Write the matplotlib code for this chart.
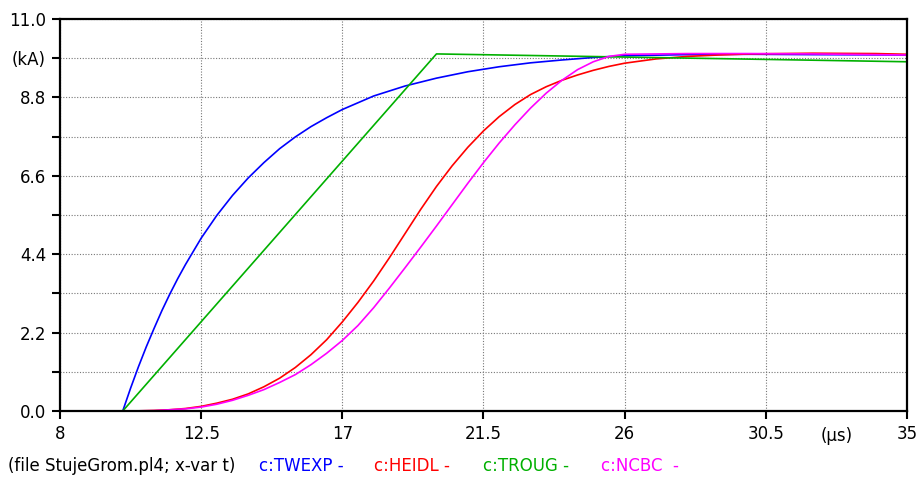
import matplotlib
matplotlib.use('Agg')
import matplotlib.pyplot as plt

# lightning current waveshapes, t in us, i in kA
t_twexp = [8, 10, 10.25, 10.5, 10.75, 11, 11.25, 11.5, 11.75, 12, 12.5, 13, 13.5, 14, 14.5, 15, 15.5, 16, 16.5, 17,
           18, 19, 20, 21, 22, 23, 24, 25, 26, 28, 30, 32, 35]
i_twexp = [0, 0, 0.64, 1.24, 1.8, 2.32, 2.82, 3.28, 3.71, 4.11, 4.85, 5.49, 6.05, 6.54, 6.97, 7.36, 7.69, 7.98, 8.23, 8.46,
           8.84, 9.12, 9.34, 9.52, 9.66, 9.77, 9.85, 9.92, 9.97, 10.0, 10.01, 10.0, 9.99]

t_heidl = [8, 10, 10.5, 11, 11.5, 12, 12.5, 13, 13.5, 14, 14.5, 15, 15.5, 16, 16.5, 17, 17.5, 18,
           18.5, 19, 19.5, 20, 20.5, 21, 21.5, 22, 22.5, 23, 23.5, 24, 24.5, 25, 25.5, 26, 27, 28, 29, 30, 32, 34, 35]
i_heidl = [0, 0, 0.004, 0.015, 0.035, 0.07, 0.13, 0.22, 0.33, 0.48, 0.68, 0.92, 1.22, 1.58, 2.0, 2.5, 3.05, 3.65,
           4.3, 4.98, 5.66, 6.3, 6.88, 7.4, 7.86, 8.26, 8.6, 8.88, 9.1, 9.28, 9.43, 9.56, 9.67, 9.76, 9.88, 9.95, 9.99,
           10.02, 10.04, 10.03, 10.01]

t_troug = [8, 10, 20, 35]
i_troug = [0, 0, 10.02, 9.80]

t_ncbc = [8, 10, 11, 12, 12.5, 13, 13.5, 14, 14.5, 15, 15.5, 16, 16.5, 17, 17.5, 18, 18.5, 19, 19.5,
          20, 20.5, 21, 21.5, 22, 22.5, 23, 23.5, 24, 24.5, 25, 25.5, 26, 28, 30, 32, 34, 35]
i_ncbc = [0, 0, 0.01, 0.06, 0.11, 0.19, 0.3, 0.44, 0.6, 0.8, 1.02, 1.3, 1.62, 1.98, 2.4, 2.9, 3.45, 4.02, 4.6,
          5.19, 5.79, 6.39, 6.97, 7.52, 8.03, 8.5, 8.92, 9.28, 9.58, 9.8, 9.95, 10.01, 10.03, 10.03, 10.02, 10.0, 9.99]

x_ticks = [8, 12.5, 17, 21.5, 26, 30.5, 35]
x_labels = ['8', '12.5', '17', '21.5', '26', '30.5', '35']
y_ticks = [0.0, 1.1, 2.2, 3.3, 4.4, 5.5, 6.6, 7.7, 8.8, 9.9, 11.0]
y_labels = ['0.0', '', '2.2', '', '4.4', '', '6.6', '', '8.8', '(kA)', '11.0']

fig = plt.figure(figsize=(9.2, 4.79), dpi=100)
ax = fig.add_axes([60 / 920, 68 / 479, 847 / 920, 392 / 479])

lw = 1.2
ax.plot(t_twexp, i_twexp, color='#0000ff', lw=lw)
ax.plot(t_heidl, i_heidl, color='#ff0000', lw=lw)
ax.plot(t_troug, i_troug, color='#00b000', lw=lw)
ax.plot(t_ncbc, i_ncbc, color='#ff00ff', lw=lw)

ax.set_xlim(8, 35)
ax.set_ylim(0, 11.0)
ax.set_xticks(x_ticks)
ax.set_xticklabels(x_labels)
ax.set_yticks(y_ticks)
ax.set_yticklabels(y_labels)
ax.tick_params(direction='out', length=6, width=1.5, labelsize=12, pad=4, colors='black')
ax.grid(True, color='#777777', linestyle=(0, (1, 1.5)), linewidth=0.8)
for s in ax.spines.values():
    s.set_linewidth(1.6)

ax.text(32.75, -0.7, '(\u00b5s)', ha='center', va='center', fontsize=12)

fy = 1 - 466 / 479
fig.text(8 / 920, fy, '(file StujeGrom.pl4; x-var t)', fontsize=12, va='center', color='black')
fig.text(259 / 920, fy, 'c:TWEXP -', fontsize=12, va='center', color='#0000ff')
fig.text(374 / 920, fy, 'c:HEIDL -', fontsize=12, va='center', color='#ff0000')
fig.text(483 / 920, fy, 'c:TROUG -', fontsize=12, va='center', color='#00b000')
fig.text(601 / 920, fy, 'c:NCBC  -', fontsize=12, va='center', color='#ff00ff')

fig.savefig('out.png', dpi=100)
